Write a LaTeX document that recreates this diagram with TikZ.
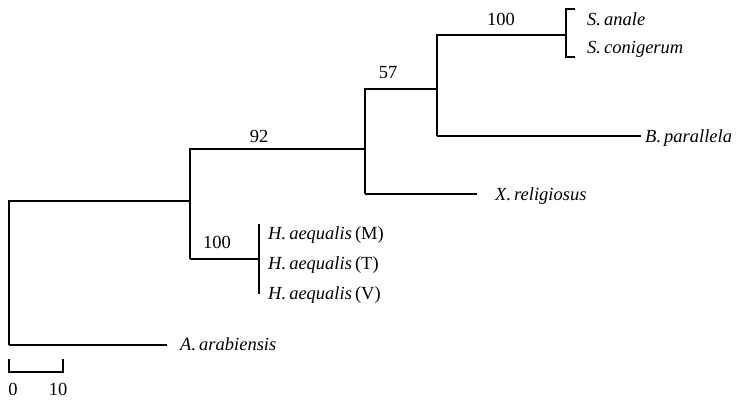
\documentclass[tikz,border=0pt]{standalone}
\usepackage{fontspec}
\setmainfont{Liberation Serif}
\begin{document}
\begin{tikzpicture}[x=1pt,y=-1pt,
  br/.style={line width=2.8pt,line cap=butt,line join=miter},
  leaf/.style={anchor=base west,inner sep=0pt,font=\fontsize{18.5}{20}\selectfont\itshape},
  boot/.style={anchor=base,inner sep=0pt,font=\fontsize{18.5}{20}\selectfont},
  scl/.style={anchor=base,inner sep=0pt,font=\fontsize{18.5}{20}\selectfont}]
\useasboundingbox (0,0) rectangle (745,400);
% junctions
\coordinate (r0) at (9,201);
\coordinate (r1) at (9,345);
\coordinate (n1t) at (190,149);
\coordinate (n1b) at (190,259);
\coordinate (n2t) at (365,89);
\coordinate (n2b) at (365,194);
\coordinate (n3t) at (437,35);
\coordinate (n3b) at (437,136);
\coordinate (hbar) at (259,259);
\coordinate (sbar) at (565,35);
% branches
\draw[br] (r1) -- (r0) -- (n1t |- r0);
\draw[br] (r1) -- (167,345) coordinate (aend);
\draw[br] (n1b) -- (n1t) -- (n2t |- n1t);
\draw[br] (n1b) -- (hbar);
\draw[br] (259,224) coordinate (hb1) -- (259,294) coordinate (hb2);
\draw[br] (n2b) -- (n2t) -- (n3t |- n2t);
\draw[br] (n2b) -- (477,194) coordinate (xend);
\draw[br] (n3b) -- (n3t) -- (sbar);
\draw[br] (n3b) -- (641,136) coordinate (bend);
\draw[br] (575,9) coordinate (s1) -- (566,9) -- (566,57) -- (575,57) coordinate (s2);
% leaves
\node[leaf] (sa) at (587,25) {S.\,anale};
\node[leaf] (sc) at (587,53) {S.\,conigerum};
\node[leaf] (bp) at (645,142) {B.\,parallela};
\node[leaf] (xr) at (495,200) {X.\,religiosus};
\node[leaf] (hm) at (268,239) {H.\,aequalis\,\upshape(M)};
\node[leaf] (ht) at (268,269) {H.\,aequalis\,\upshape(T)};
\node[leaf] (hv) at (268,299) {H.\,aequalis\,\upshape(V)};
\node[leaf] (aa) at (180,350) {A.\,arabiensis};
% bootstrap values
\node[boot] (b100a) at (501,25) {100};
\node[boot] (b57) at (388,78) {57};
\node[boot] (b92) at (259,142) {92};
\node[boot] (b100b) at (217,248) {100};
% scale bar
\draw[br] (9,359) -- (9,372) -- (63,372) -- (63,359);
\node[scl] (s0) at (13,395) {0};
\node[scl] (s10) at (58,395) {10};
\end{tikzpicture}
\end{document}
